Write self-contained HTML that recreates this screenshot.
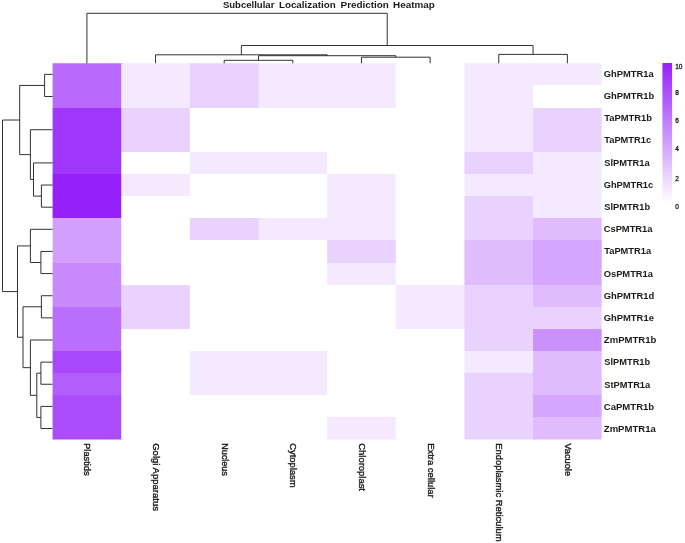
<!DOCTYPE html>
<html><head><meta charset="utf-8"><title>Subcellular Localization Prediction Heatmap</title>
<style>
html,body{margin:0;padding:0;background:#fff;}
svg{display:block;will-change:transform;opacity:0.999;}
text{font-family:"Liberation Sans",sans-serif;fill:#1a1a1a;}
.rl{font-size:9px;font-weight:bold;}
.cl{font-size:8.2px;font-weight:normal;stroke:#1a1a1a;stroke-width:0.35px;}
.tt{font-size:9px;font-weight:bold;}
.cb{font-size:6.5px;stroke:#1a1a1a;stroke-width:0.3px;}
.d{stroke:#1c1c1c;stroke-width:0.9;fill:none;}
</style></head><body>
<svg width="685" height="543" viewBox="0 0 685 543">
<defs><linearGradient id="g" x1="0" y1="0" x2="0" y2="1"><stop offset="0" stop-color="#9620fa"/><stop offset="1" stop-color="#ffffff"/></linearGradient></defs>
<rect x="0" y="0" width="685" height="543" fill="#fff"/>
<text class="tt" x="222.9" y="8.2" textLength="51.5" lengthAdjust="spacingAndGlyphs">Subcellular</text>
<text class="tt" x="278.9" y="8.2" textLength="56.8" lengthAdjust="spacingAndGlyphs">Localization</text>
<text class="tt" x="340.6" y="8.2" textLength="48.3" lengthAdjust="spacingAndGlyphs">Prediction</text>
<text class="tt" x="393.1" y="8.2" textLength="41.7" lengthAdjust="spacingAndGlyphs">Heatmap</text>
<defs>
<clipPath id="hm"><rect x="52.60" y="63.30" width="549.10" height="376.30"/></clipPath>
<linearGradient id="c0" gradientUnits="userSpaceOnUse" x1="0" y1="63.30" x2="0" y2="439.60"><stop offset="0.00000" stop-color="#b96afc"/><stop offset="0.11765" stop-color="#b96afc"/><stop offset="0.11765" stop-color="#a036fa"/><stop offset="0.29412" stop-color="#a036fa"/><stop offset="0.29412" stop-color="#9620fa"/><stop offset="0.41176" stop-color="#9620fa"/><stop offset="0.41176" stop-color="#d29ffd"/><stop offset="0.52941" stop-color="#d29ffd"/><stop offset="0.52941" stop-color="#c789fc"/><stop offset="0.64706" stop-color="#c789fc"/><stop offset="0.64706" stop-color="#bb6efc"/><stop offset="0.76471" stop-color="#bb6efc"/><stop offset="0.76471" stop-color="#a948fb"/><stop offset="0.82353" stop-color="#a948fb"/><stop offset="0.82353" stop-color="#b35efb"/><stop offset="0.88235" stop-color="#b35efb"/><stop offset="0.88235" stop-color="#ab4dfb"/><stop offset="1.00000" stop-color="#ab4dfb"/></linearGradient>
<linearGradient id="c1" gradientUnits="userSpaceOnUse" x1="0" y1="63.30" x2="0" y2="439.60"><stop offset="0.00000" stop-color="#f4e9fe"/><stop offset="0.11765" stop-color="#f4e9fe"/><stop offset="0.11765" stop-color="#ead2fe"/><stop offset="0.23529" stop-color="#ead2fe"/><stop offset="0.23529" stop-color="#ffffff"/><stop offset="0.29412" stop-color="#ffffff"/><stop offset="0.29412" stop-color="#f4e9fe"/><stop offset="0.35294" stop-color="#f4e9fe"/><stop offset="0.35294" stop-color="#ffffff"/><stop offset="0.58824" stop-color="#ffffff"/><stop offset="0.58824" stop-color="#ead2fe"/><stop offset="0.70588" stop-color="#ead2fe"/><stop offset="0.70588" stop-color="#ffffff"/><stop offset="1.00000" stop-color="#ffffff"/></linearGradient>
<linearGradient id="c2" gradientUnits="userSpaceOnUse" x1="0" y1="63.30" x2="0" y2="439.60"><stop offset="0.00000" stop-color="#ead2fe"/><stop offset="0.11765" stop-color="#ead2fe"/><stop offset="0.11765" stop-color="#ffffff"/><stop offset="0.23529" stop-color="#ffffff"/><stop offset="0.23529" stop-color="#f4e9fe"/><stop offset="0.29412" stop-color="#f4e9fe"/><stop offset="0.29412" stop-color="#ffffff"/><stop offset="0.41176" stop-color="#ffffff"/><stop offset="0.41176" stop-color="#ead2fe"/><stop offset="0.47059" stop-color="#ead2fe"/><stop offset="0.47059" stop-color="#ffffff"/><stop offset="0.76471" stop-color="#ffffff"/><stop offset="0.76471" stop-color="#f4e9fe"/><stop offset="0.88235" stop-color="#f4e9fe"/><stop offset="0.88235" stop-color="#ffffff"/><stop offset="1.00000" stop-color="#ffffff"/></linearGradient>
<linearGradient id="c3" gradientUnits="userSpaceOnUse" x1="0" y1="63.30" x2="0" y2="439.60"><stop offset="0.00000" stop-color="#f4e9fe"/><stop offset="0.11765" stop-color="#f4e9fe"/><stop offset="0.11765" stop-color="#ffffff"/><stop offset="0.23529" stop-color="#ffffff"/><stop offset="0.23529" stop-color="#f4e9fe"/><stop offset="0.29412" stop-color="#f4e9fe"/><stop offset="0.29412" stop-color="#ffffff"/><stop offset="0.41176" stop-color="#ffffff"/><stop offset="0.41176" stop-color="#f4e9fe"/><stop offset="0.47059" stop-color="#f4e9fe"/><stop offset="0.47059" stop-color="#ffffff"/><stop offset="0.76471" stop-color="#ffffff"/><stop offset="0.76471" stop-color="#f4e9fe"/><stop offset="0.88235" stop-color="#f4e9fe"/><stop offset="0.88235" stop-color="#ffffff"/><stop offset="1.00000" stop-color="#ffffff"/></linearGradient>
<linearGradient id="c4" gradientUnits="userSpaceOnUse" x1="0" y1="63.30" x2="0" y2="439.60"><stop offset="0.00000" stop-color="#f4e9fe"/><stop offset="0.11765" stop-color="#f4e9fe"/><stop offset="0.11765" stop-color="#ffffff"/><stop offset="0.29412" stop-color="#ffffff"/><stop offset="0.29412" stop-color="#f4e9fe"/><stop offset="0.47059" stop-color="#f4e9fe"/><stop offset="0.47059" stop-color="#ead2fe"/><stop offset="0.52941" stop-color="#ead2fe"/><stop offset="0.52941" stop-color="#f4e9fe"/><stop offset="0.58824" stop-color="#f4e9fe"/><stop offset="0.58824" stop-color="#ffffff"/><stop offset="0.94118" stop-color="#ffffff"/><stop offset="0.94118" stop-color="#f4e9fe"/><stop offset="1.00000" stop-color="#f4e9fe"/></linearGradient>
<linearGradient id="c5" gradientUnits="userSpaceOnUse" x1="0" y1="63.30" x2="0" y2="439.60"><stop offset="0.00000" stop-color="#ffffff"/><stop offset="0.58824" stop-color="#ffffff"/><stop offset="0.58824" stop-color="#f4e9fe"/><stop offset="0.70588" stop-color="#f4e9fe"/><stop offset="0.70588" stop-color="#ffffff"/><stop offset="1.00000" stop-color="#ffffff"/></linearGradient>
<linearGradient id="c6" gradientUnits="userSpaceOnUse" x1="0" y1="63.30" x2="0" y2="439.60"><stop offset="0.00000" stop-color="#f4e9fe"/><stop offset="0.23529" stop-color="#f4e9fe"/><stop offset="0.23529" stop-color="#ead2fe"/><stop offset="0.29412" stop-color="#ead2fe"/><stop offset="0.29412" stop-color="#f4e9fe"/><stop offset="0.35294" stop-color="#f4e9fe"/><stop offset="0.35294" stop-color="#ead2fe"/><stop offset="0.47059" stop-color="#ead2fe"/><stop offset="0.47059" stop-color="#e0bcfe"/><stop offset="0.58824" stop-color="#e0bcfe"/><stop offset="0.58824" stop-color="#ead2fe"/><stop offset="0.76471" stop-color="#ead2fe"/><stop offset="0.76471" stop-color="#f4e9fe"/><stop offset="0.82353" stop-color="#f4e9fe"/><stop offset="0.82353" stop-color="#ead2fe"/><stop offset="1.00000" stop-color="#ead2fe"/></linearGradient>
<linearGradient id="c7" gradientUnits="userSpaceOnUse" x1="0" y1="63.30" x2="0" y2="439.60"><stop offset="0.00000" stop-color="#f4e9fe"/><stop offset="0.05882" stop-color="#f4e9fe"/><stop offset="0.05882" stop-color="#ffffff"/><stop offset="0.11765" stop-color="#ffffff"/><stop offset="0.11765" stop-color="#ead2fe"/><stop offset="0.23529" stop-color="#ead2fe"/><stop offset="0.23529" stop-color="#f4e9fe"/><stop offset="0.41176" stop-color="#f4e9fe"/><stop offset="0.41176" stop-color="#e0bcfe"/><stop offset="0.47059" stop-color="#e0bcfe"/><stop offset="0.47059" stop-color="#d5a6fd"/><stop offset="0.58824" stop-color="#d5a6fd"/><stop offset="0.58824" stop-color="#e0bcfe"/><stop offset="0.64706" stop-color="#e0bcfe"/><stop offset="0.64706" stop-color="#ead2fe"/><stop offset="0.70588" stop-color="#ead2fe"/><stop offset="0.70588" stop-color="#ca90fc"/><stop offset="0.76471" stop-color="#ca90fc"/><stop offset="0.76471" stop-color="#e0bcfe"/><stop offset="0.88235" stop-color="#e0bcfe"/><stop offset="0.88235" stop-color="#d5a6fd"/><stop offset="0.94118" stop-color="#d5a6fd"/><stop offset="0.94118" stop-color="#e0bcfe"/><stop offset="1.00000" stop-color="#e0bcfe"/></linearGradient>
</defs>
<g clip-path="url(#hm)">
<rect x="50.60" y="60" width="72.64" height="384" fill="url(#c0)"/>
<rect x="121.24" y="60" width="70.64" height="384" fill="url(#c1)"/>
<rect x="189.88" y="60" width="70.64" height="384" fill="url(#c2)"/>
<rect x="258.51" y="60" width="70.64" height="384" fill="url(#c3)"/>
<rect x="327.15" y="60" width="70.64" height="384" fill="url(#c4)"/>
<rect x="395.79" y="60" width="70.64" height="384" fill="url(#c5)"/>
<rect x="464.43" y="60" width="70.64" height="384" fill="url(#c6)"/>
<rect x="533.06" y="60" width="70.64" height="384" fill="url(#c7)"/>
</g>
<path class="d" d="M224.19 63.30V60.30H292.83V63.30"/>
<path class="d" d="M361.47 63.30V57.20H430.11V63.30"/>
<path class="d" d="M258.51 60.30V55.70H395.79V57.20"/>
<path class="d" d="M155.56 63.30V54.80H327.15V55.70"/>
<path class="d" d="M498.74 63.30V54.40H567.38V63.30"/>
<path class="d" d="M241.35 54.80V45.50H533.06V54.40"/>
<path class="d" d="M86.92 63.30V13.30H387.21V45.50"/>
<path class="d" d="M52.60 74.37H44.60V96.50H52.60"/>
<path class="d" d="M52.60 185.04H41.40V207.18H52.60"/>
<path class="d" d="M52.60 162.91H33.50V196.11H41.40"/>
<path class="d" d="M52.60 129.71H30.40V179.51H33.50"/>
<path class="d" d="M44.60 85.44H19.70V154.61H30.40"/>
<path class="d" d="M52.60 251.45H40.90V273.59H52.60"/>
<path class="d" d="M52.60 229.31H30.40V262.52H40.90"/>
<path class="d" d="M52.60 295.72H41.40V317.86H52.60"/>
<path class="d" d="M52.60 362.13H40.90V384.26H52.60"/>
<path class="d" d="M52.60 406.40H40.90V428.53H52.60"/>
<path class="d" d="M40.90 373.19H36.80V417.46H40.90"/>
<path class="d" d="M52.60 339.99H30.40V395.33H36.80"/>
<path class="d" d="M41.40 306.79H23.00V367.66H30.40"/>
<path class="d" d="M30.40 245.92H17.50V337.22H23.00"/>
<path class="d" d="M19.70 120.02H2.50V291.57H17.50"/>
<text class="rl" x="603.7" y="76.7" textLength="49.9" lengthAdjust="spacingAndGlyphs">GhPMTR1a</text>
<text class="rl" x="603.7" y="98.9" textLength="50.6" lengthAdjust="spacingAndGlyphs">GhPMTR1b</text>
<text class="rl" x="604.2" y="121.1" textLength="47.9" lengthAdjust="spacingAndGlyphs">TaPMTR1b</text>
<text class="rl" x="604.2" y="143.3" textLength="47.0" lengthAdjust="spacingAndGlyphs">TaPMTR1c</text>
<text class="rl" x="604.2" y="165.5" textLength="45.5" lengthAdjust="spacingAndGlyphs">SlPMTR1a</text>
<text class="rl" x="603.7" y="187.8" textLength="49.5" lengthAdjust="spacingAndGlyphs">GhPMTR1c</text>
<text class="rl" x="604.2" y="210.0" textLength="46.0" lengthAdjust="spacingAndGlyphs">SlPMTR1b</text>
<text class="rl" x="603.7" y="232.2" textLength="48.8" lengthAdjust="spacingAndGlyphs">CsPMTR1a</text>
<text class="rl" x="604.2" y="254.4" textLength="47.0" lengthAdjust="spacingAndGlyphs">TaPMTR1a</text>
<text class="rl" x="603.7" y="276.6" textLength="49.3" lengthAdjust="spacingAndGlyphs">OsPMTR1a</text>
<text class="rl" x="603.7" y="298.8" textLength="50.6" lengthAdjust="spacingAndGlyphs">GhPMTR1d</text>
<text class="rl" x="603.7" y="321.0" textLength="50.2" lengthAdjust="spacingAndGlyphs">GhPMTR1e</text>
<text class="rl" x="603.8" y="343.2" textLength="52.6" lengthAdjust="spacingAndGlyphs">ZmPMTR1b</text>
<text class="rl" x="604.3" y="365.4" textLength="45.9" lengthAdjust="spacingAndGlyphs">SlPMTR1b</text>
<text class="rl" x="604.3" y="387.6" textLength="45.9" lengthAdjust="spacingAndGlyphs">StPMTR1a</text>
<text class="rl" x="603.8" y="409.9" textLength="50.4" lengthAdjust="spacingAndGlyphs">CaPMTR1b</text>
<text class="rl" x="603.8" y="432.1" textLength="52.0" lengthAdjust="spacingAndGlyphs">ZmPMTR1a</text>
<text class="cl" transform="translate(84.3 443.2) rotate(90)" x="0" y="0" textLength="32.3" lengthAdjust="spacingAndGlyphs">Plastids</text>
<text class="cl" transform="translate(153.0 443.2) rotate(90)" x="0" y="0" textLength="67.8" lengthAdjust="spacingAndGlyphs">Golgi Apparatus</text>
<text class="cl" transform="translate(221.6 443.2) rotate(90)" x="0" y="0" textLength="32.7" lengthAdjust="spacingAndGlyphs">Nucleus</text>
<text class="cl" transform="translate(290.2 443.2) rotate(90)" x="0" y="0" textLength="44.4" lengthAdjust="spacingAndGlyphs">Cytoplasm</text>
<text class="cl" transform="translate(358.9 443.2) rotate(90)" x="0" y="0" textLength="47.8" lengthAdjust="spacingAndGlyphs">Chloroplast</text>
<text class="cl" transform="translate(427.5 443.2) rotate(90)" x="0" y="0" textLength="54.5" lengthAdjust="spacingAndGlyphs">Extra cellular</text>
<text class="cl" transform="translate(496.1 443.2) rotate(90)" x="0" y="0" textLength="98.5" lengthAdjust="spacingAndGlyphs">Endoplasmic Reticulum</text>
<text class="cl" transform="translate(564.8 443.2) rotate(90)" x="0" y="0" textLength="32.9" lengthAdjust="spacingAndGlyphs">Vacuole</text>
<rect x="662.4" y="63" width="9.7" height="140" fill="url(#g)"/>
<text class="cb" x="675.2" y="68.9">10</text>
<text class="cb" x="675.2" y="94.8">8</text>
<text class="cb" x="675.2" y="122.8">6</text>
<text class="cb" x="675.2" y="151.0">4</text>
<text class="cb" x="675.2" y="181.1">2</text>
<text class="cb" x="675.2" y="209.3">0</text>
</svg>
</body></html>
